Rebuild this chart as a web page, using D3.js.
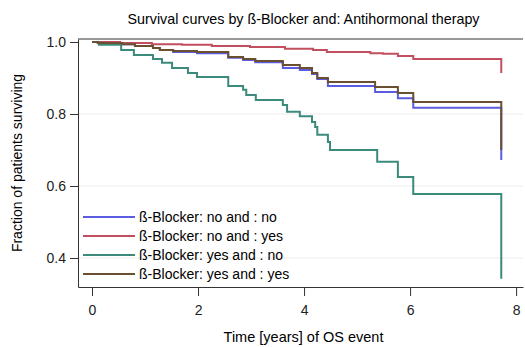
<!DOCTYPE html>
<html>
<head>
<meta charset="utf-8">
<script src="https://cdn.jsdelivr.net/npm/d3@7"></script>
<style>
  body { margin: 0; background: #fff; }
  svg { font-family: "Liberation Sans", Arial, sans-serif; }
  .axis path, .axis line { stroke: #333; }
  .axis text { font-size: 14px; fill: #222; }
  .grid line { stroke: #ececec; }
</style>
</head>
<body>
<div id="chart"></div>
<script>
// group labels and colours
var groups = ["ß-Blocker: no and : no", "ß-Blocker: no and : yes",
              "ß-Blocker: yes and : no", "ß-Blocker: yes and : yes"];
var colors = ["#5c5ce0", "#c24f5f", "#3b8a7b", "#6a4f31"];

// step times (years) and survival after each step
var timesNoNo = [0, 0.11, 0.57, 0.81, 1.15, 1.28, 1.53, 1.98, 2.57, 2.85, 3.08, 3.60, 3.92, 4.15, 4.25, 4.45, 5.34, 5.77, 6.06, 7.72];
var survNoNo  = [1, 0.997, 0.994, 0.989, 0.983, 0.978, 0.972, 0.969, 0.956, 0.950, 0.944, 0.928, 0.922, 0.911, 0.897, 0.878, 0.861, 0.844, 0.817, 0.672];

var timesNoYes = [0, 0.53, 1.13, 1.70, 2.26, 2.98, 3.64, 4.17, 4.43, 5.25, 5.49, 5.77, 6.06, 7.72];
var survNoYes  = [1, 0.997, 0.994, 0.992, 0.989, 0.986, 0.981, 0.978, 0.972, 0.969, 0.967, 0.961, 0.953, 0.914];

var timesYesNo = [0, 0.13, 0.55, 0.79, 1.15, 1.32, 1.51, 1.81, 1.98, 2.57, 2.85, 2.91, 3.09, 3.60, 3.68, 3.92, 4.15, 4.21, 4.25, 4.45, 4.49, 5.38, 5.77, 6.06, 7.72];
var survYesNo  = [1, 0.992, 0.978, 0.964, 0.953, 0.942, 0.928, 0.914, 0.903, 0.878, 0.867, 0.853, 0.839, 0.825, 0.806, 0.794, 0.778, 0.764, 0.742, 0.722, 0.700, 0.667, 0.625, 0.578, 0.342];

var timesYesYes = [0, 0.11, 0.57, 0.81, 1.15, 1.28, 1.53, 1.98, 2.57, 2.85, 3.08, 3.60, 3.92, 4.15, 4.25, 4.45, 5.34, 5.77, 6.06, 7.72];
var survYesYes  = [1, 0.997, 0.994, 0.989, 0.983, 0.978, 0.975, 0.972, 0.958, 0.953, 0.947, 0.936, 0.928, 0.914, 0.900, 0.889, 0.875, 0.858, 0.833, 0.700];

var xTicks = [0, 2, 4, 6, 8];
var yTicks = [0.4, 0.6, 0.8, 1.0];

var title = "Survival curves by ß-Blocker and: Antihormonal therapy";
var xTitle = "Time [years] of OS event";
var yTitle = "Fraction of patients surviving";

var margin = {top: 39, right: 2, bottom: 60, left: 78},
    width = 525 - margin.left - margin.right,
    height = 347 - margin.top - margin.bottom;

var x = d3.scaleLinear()
    .domain([-0.264, 8.13])
    .range([0, width]);

var y = d3.scaleLinear()
    .domain([0.3194, 1.0083])
    .range([height, 0]);

var svg = d3.select("#chart").append("svg")
    .attr("width", 525)
    .attr("height", 347);

var g = svg.append("g")
    .attr("transform", "translate(" + margin.left + "," + margin.top + ")");

// light horizontal grid
g.append("g")
    .attr("class", "grid")
    .selectAll("line")
    .data(yTicks.filter(function(d) { return d < 1; }))
    .enter().append("line")
    .attr("x1", 0)
    .attr("x2", width)
    .attr("y1", function(d) { return y(d); })
    .attr("y2", function(d) { return y(d); });

var series = [
    {times: timesNoNo, surv: survNoNo},
    {times: timesNoYes, surv: survNoYes},
    {times: timesYesNo, surv: survYesNo},
    {times: timesYesYes, surv: survYesYes}
];

var line = d3.line()
    .curve(d3.curveStepAfter)
    .x(function(d) { return x(d[0]); })
    .y(function(d) { return y(d[1]); });

series.forEach(function(s, i) {
    var pts = s.times.map(function(t, j) { return [t, s.surv[j]]; });
    g.append("path")
        .datum(pts)
        .attr("fill", "none")
        .attr("stroke", colors[i])
        .attr("stroke-width", 2)
        .attr("d", line);
});

// axes
g.append("g")
    .attr("class", "axis")
    .attr("transform", "translate(0," + height + ")")
    .call(d3.axisBottom(x).tickValues(xTicks).tickSize(9).tickSizeOuter(0).tickPadding(5).tickFormat(d3.format("d")))
    .call(function(a) { a.selectAll("text").attr("dy", "1em"); });

g.append("g")
    .attr("class", "axis")
    .call(d3.axisLeft(y).tickValues(yTicks).tickSize(8).tickSizeOuter(0).tickPadding(4).tickFormat(d3.format(".1f")));

// top frame line
g.append("line")
    .attr("x1", 0).attr("x2", width)
    .attr("y1", 0).attr("y2", 0)
    .attr("stroke", "#333");

// titles
svg.append("text")
    .attr("x", margin.left + width / 2 + 3)
    .attr("y", 24)
    .attr("text-anchor", "middle")
    .style("font-size", "14.3px")
    .text(title);

svg.append("text")
    .attr("x", margin.left + width / 2 + 3)
    .attr("y", 342)
    .attr("text-anchor", "middle")
    .style("font-size", "14.5px")
    .text(xTitle);

svg.append("text")
    .attr("transform", "translate(22," + (margin.top + height / 2) + ") rotate(-90)")
    .attr("text-anchor", "middle")
    .style("font-size", "14px")
    .text(yTitle);

// legend
var legend = svg.append("g")
    .attr("transform", "translate(83,217)");

groups.forEach(function(name, i) {
    var row = legend.append("g").attr("transform", "translate(0," + (i * 19) + ")");
    row.append("line")
        .attr("x1", 0).attr("x2", 52)
        .attr("stroke", colors[i])
        .attr("stroke-width", 2);
    row.append("text")
        .attr("x", 56)
        .attr("dy", "0.35em")
        .style("font-size", "14px")
        .text(name);
});
</script>
</body>
</html>
